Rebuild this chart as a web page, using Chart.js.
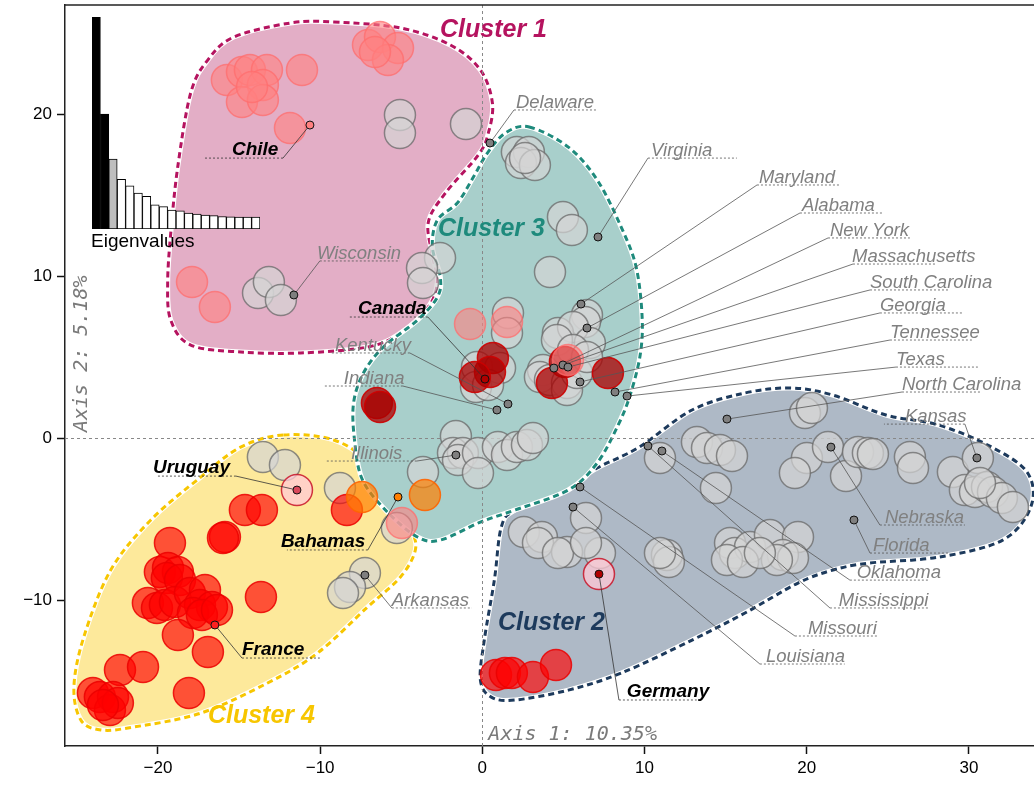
<!DOCTYPE html>
<html lang="en">
<head>
<meta charset="UTF-8">
<title>DAPC clusters</title>
<script src="https://cdn.jsdelivr.net/npm/chart.js@4.4.1/dist/chart.umd.min.js"></script>
<style>
  html, body { margin: 0; padding: 0; background: #fff; }
  #wrap { position: relative; width: 1034px; height: 787px; overflow: hidden; }
  #main { position: absolute; left: 0; top: 0; }
  #eigen { position: absolute; left: 88px; top: 12px; }
  #eigenLabel { position: absolute; left: 91px; top: 230px; font: 19px "Liberation Sans", Arial, sans-serif; color: #000; }
</style>
</head>
<body>
<div id="wrap">
  <canvas id="main" width="1034" height="787"></canvas>
  <canvas id="eigen" width="176" height="218"></canvas>
  <div id="eigenLabel">Eigenvalues</div>
</div>
<script>
// ---- data (axis units) ----
const xTicks = [-20, -10, 0, 10, 20, 30];
const yTicks = [-10, 0, 10, 20];

const grayPts = [
  [-5.08,19.94],[-5.08,18.83],[-1.01,19.38],[-13.83,8.95],[-13.16,9.63],[-12.42,8.52],
  [-2.61,11.11],[-3.72,10.49],[-3.66,9.57],
  [2.13,17.65],[2.87,17.65],[2.38,16.98],[3.24,16.85],[2.63,17.28],[4.97,13.64],[5.52,12.84],
  [4.17,10.25],[1.58,7.72],[1.52,6.48],[-0.33,4.38],[1.09,4.32],[-0.39,3.15],[0.35,3.27],
  [6.45,7.59],[6.33,7.16],[4.66,6.48],[5.59,6.85],[4.60,6.05],[6.63,5.86],[5.59,5.43],
  [3.74,4.20],[3.55,3.77],[4.17,3.58],[5.22,3.40],[5.22,2.96],[5.83,4.01],[6.45,5.00],
  [-1.63,0.12],[-1.81,-0.93],[-1.20,-0.93],[-1.50,-1.36],[-0.27,-0.93],[-0.27,-2.16],
  [0.96,-0.56],[1.52,-1.05],[2.13,-0.56],[2.75,-0.43],[3.12,0.00],[-3.66,-2.10],[-5.27,-5.56],
  [-13.53,-1.17],[-12.17,-1.67],[-8.78,-3.09],[-7.24,-8.33],[-8.16,-9.20],[-8.59,-9.57],
  [19.89,1.54],[20.32,1.85],[13.23,-0.25],[13.85,-0.62],[14.65,-0.74],[15.39,-1.11],
  [10.95,-1.23],[14.40,-3.09],[20.01,-1.23],[19.27,-2.16],[21.31,-0.56],[22.42,-2.35],
  [23.16,-0.86],[23.77,-0.93],[24.08,-0.99],[11.38,-7.22],[11.50,-7.65],[10.95,-7.10],
  [15.27,-6.48],[15.57,-7.10],[16.50,-6.73],[15.08,-7.53],[16.07,-7.65],[17.73,-5.99],
  [19.46,-6.11],[18.53,-7.22],[19.15,-7.41],[18.16,-7.53],[17.11,-7.10],
  [26.36,-1.17],[26.55,-1.85],[29.01,-2.10],[30.55,-1.23],[29.75,-3.21],[30.37,-3.33],
  [31.11,-3.02],[31.48,-3.33],[32.03,-3.70],[32.71,-4.26],[30.68,-2.78],
  [2.56,-5.80],[3.67,-6.11],[3.43,-6.48],[5.22,-7.04],[4.66,-7.10],[6.39,-4.94],[7.25,-7.10],[6.39,-6.48]
];
const redPts = [
  [-14.64,-4.44],[-13.59,-4.44],[-15.87,-6.11],[-15.99,-6.17],[-19.26,-6.48],[-8.35,-4.44],
  [-19.88,-8.27],[-19.38,-8.02],[-18.77,-8.27],[-19.45,-8.64],[-18.64,-8.77],[-20.62,-10.19],
  [-20.06,-10.49],[-19.57,-10.31],[-18.95,-10.12],[-18.03,-9.57],[-17.10,-9.38],[-17.41,-10.31],
  [-16.67,-10.43],[-17.84,-10.80],[-17.29,-10.93],[-16.36,-10.62],[-18.77,-12.16],[-16.92,-13.21],
  [-13.65,-9.81],[-22.34,-14.32],[-20.92,-14.14],[-18.09,-15.74],[-24.01,-15.74],[-23.58,-15.99],
  [-22.77,-15.99],[-22.96,-16.79],[-22.47,-16.36],[-23.39,-16.48],
  [0.84,-14.63],[1.39,-14.51],[1.82,-14.51],[3.12,-14.75],[4.54,-14.01]
];
const darkRedPts = [
  [0.65,4.94],[0.47,4.07],[-0.46,3.77],[-6.50,2.16],[-6.31,1.91],[5.09,4.69],[4.29,3.40],[7.74,4.01]
];
const salmonPts = [
  [-15.75,22.10],[-14.82,22.59],[-14.33,22.72],[-13.28,22.72],[-13.53,21.79],[-14.82,20.74],
  [-13.53,20.86],[-14.20,21.67],[-11.12,22.72],[-11.86,19.14],[-7.05,24.26],[-6.31,24.75],
  [-5.20,24.07],[-5.82,23.33],[-6.62,23.83],[-17.90,9.63],[-16.49,8.09],
  [-0.76,7.04],[1.52,7.16],[-4.96,-5.25],[5.28,4.81]
];
const orangePts = [[-7.42,-3.64],[-3.54,-3.52]];
const paleRedPts = [[-11.43,-3.21],[7.19,-8.40]];

const labelNames = ['Delaware','Virginia','Maryland','Alabama','New York','Massachusetts',
  'South Carolina','Georgia','Tennessee','Texas','North Carolina','Kansas','Nebraska','Florida',
  'Oklahoma','Mississippi','Missouri','Louisiana','Germany','Arkansas','France','Bahamas',
  'Uruguay','Illinois','Indiana','Kentucky','Canada','Wisconsin','Chile'];
const labelDots = [[0.47,18.21],[7.13,12.41],[6.08,8.27],[6.45,6.79],[4.41,4.32],[4.97,4.51],
  [5.28,4.38],[6.02,3.46],[8.18,2.84],[8.92,2.59],[15.08,1.17],[30.49,-1.23],[21.49,-0.56],
  [22.91,-5.06],[11.07,-0.80],[10.21,-0.49],[6.02,-3.02],[5.59,-4.26],[7.19,-8.40],[-7.24,-8.46],
  [-16.49,-11.54],[-5.20,-3.64],[-11.43,-3.21],[-1.63,-1.05],[0.90,1.73],[1.58,2.10],[0.16,3.64],
  [-11.62,8.83],[-10.63,19.32]];
const countries = ['Germany','France','Bahamas','Uruguay','Canada','Chile'];

const eigenvalues = [10.35,5.61,3.41,2.43,2.11,1.75,1.59,1.18,1.09,0.92,0.89,0.78,0.73,0.68,0.65,0.61,0.60,0.58,0.58,0.58];

const clusterNames = ['Cluster 1','Cluster 2','Cluster 3','Cluster 4'];
const cluster1Hull = [[-9.17,25.68],[-5.05,25.31],[-1.97,24.26],[-0.12,22.72],[0.62,20.68],[0.37,18.83],
  [-0.25,17.47],[-2.28,15.12],[-3.33,13.33],[-3.08,11.30],[-2.77,9.63],[-3.33,8.09],[-5.05,6.48],
  [-7.08,5.62],[-11.21,5.25],[-14.90,5.31],[-17.98,5.74],[-19.21,7.28],[-19.40,9.57],[-19.21,12.65],
  [-18.78,16.73],[-17.98,21.30],[-16.93,23.33],[-15.33,24.75],[-11.82,25.62]];
const cluster2Hull = [[4.86,-3.21],[7.08,-1.85],[9.67,-0.56],[12.93,1.73],[16.19,2.78],[19.03,3.09],
  [21.61,2.65],[24.88,1.42],[28.14,0.80],[31.40,-0.56],[33.62,-2.16],[33.81,-4.26],[32.08,-6.30],
  [28.14,-7.35],[23.83,-7.72],[21.61,-8.15],[19.46,-8.95],[16.19,-10.80],[12.93,-12.47],[8.56,-14.51],
  [5.30,-15.56],[2.03,-16.17],[0.55,-15.99],[-0.12,-14.94],[0.12,-12.47],[0.74,-8.77],[1.17,-5.49],[2.03,-4.44]];
const cluster3Hull = [[2.89,19.20],[5.30,17.96],[7.08,15.93],[8.56,13.02],[9.48,10.56],[9.85,7.47],
  [9.73,5.12],[9.11,2.65],[8.37,0.80],[7.08,-1.54],[5.30,-3.21],[2.03,-4.44],[-0.12,-5.19],
  [-2.59,-6.30],[-4.00,-6.11],[-5.85,-4.57],[-7.39,-2.59],[-7.88,-0.12],[-7.94,2.16],[-7.33,4.01],
  [-6.10,5.62],[-4.00,7.28],[-2.77,8.70],[-2.59,9.94],[-3.08,11.79],[-2.77,13.46],[-1.54,14.51],
  [-0.55,16.11],[0.31,17.59],[1.42,18.83]];
const cluster4Hull = [[-12.25,0.19],[-9.17,-0.12],[-7.08,-1.54],[-5.67,-4.26],[-4.43,-5.68],[-4.13,-6.91],
  [-5.05,-8.58],[-7.08,-10.43],[-10.16,-13.27],[-13.24,-15.12],[-17.36,-16.98],[-21.49,-17.84],
  [-23.52,-18.02],[-24.75,-17.41],[-25.18,-15.37],[-24.57,-12.28],[-22.91,-8.15],[-20.44,-5.06],
  [-17.36,-2.41],[-14.90,-0.56]];

// ---- layout of the annotations (axis units) ----
// [underline y, underline x0, underline x1, text x, side the leader joins]
const labelLayout = [
  [20.25,1.95,7.07,2.07,'L'],[17.28,10.21,15.69,10.40,'L'],[15.62,16.93,22.05,17.05,'L'],
  [13.89,19.58,24.64,19.70,'L'],[12.35,21.31,26.36,21.43,'L'],[10.74,22.85,27.97,22.79,'L'],
  [9.14,23.90,28.83,23.90,'L'],[7.72,24.51,29.57,24.51,'L'],[6.05,25.13,30.18,25.13,'L'],
  [4.38,25.50,30.55,25.50,'L'],[2.84,25.87,30.80,25.87,'L'],[0.86,24.76,29.75,26.05,'R'],
  [-5.37,24.51,29.75,24.82,'L'],[-7.10,23.90,28.77,24.08,'L'],[-8.77,22.66,27.59,23.08,'L'],
  [-10.49,21.43,27.47,21.98,'L'],[-12.22,19.27,24.39,20.07,'L'],[-13.95,17.11,22.34,17.48,'L'],
  [-16.17,8.42,13.22,8.91,'L'],[-10.49,-5.58,-0.64,-5.58,'L'],[-13.58,-14.82,-10.02,-14.82,'L'],
  [-6.91,-12.05,-7.06,-12.42,'R'],[-2.35,-20.06,-15.19,-20.31,'R'],[-1.42,-9.71,-4.04,-8.10,'R'],
  [3.21,-9.71,-4.90,-8.54,'R'],[5.25,-9.28,-4.47,-9.09,'R'],[7.47,-8.17,-3.36,-7.67,'R'],
  [10.93,-10.02,-5.08,-10.20,'L'],[17.28,-17.16,-12.29,-15.44,'R']
];
const clusterLabelPos = [[-2.61,25.19],[0.96,-11.42],[-2.74,12.90],[-16.92,-17.16]];

const hulls = [
  { pts: cluster4Hull, fill: '#FDE99B', line: '#F7C600' },
  { pts: cluster1Hull, fill: '#E3AEC6', line: '#B5135F' },
  { pts: cluster2Hull, fill: '#AEB9C6', line: '#1D3A5C' },
  { pts: cluster3Hull, fill: '#A8CFCB', line: '#1E8A7C' }
];
const clusterColors = ['#B5135F', '#1D3A5C', '#1E8A7C', '#F7C600'];

const toXY = a => a.map(p => ({ x: p[0], y: p[1] }));
const FONT = '"Liberation Sans", Arial, sans-serif';

function smoothClosed(ctx, pts) {
  const n = pts.length;
  ctx.beginPath();
  ctx.moveTo(pts[0][0], pts[0][1]);
  for (let i = 0; i < n; i++) {
    const p0 = pts[(i - 1 + n) % n], p1 = pts[i], p2 = pts[(i + 1) % n], p3 = pts[(i + 2) % n];
    ctx.bezierCurveTo(
      p1[0] + (p2[0] - p0[0]) / 6, p1[1] + (p2[1] - p0[1]) / 6,
      p2[0] - (p3[0] - p1[0]) / 6, p2[1] - (p3[1] - p1[1]) / 6,
      p2[0], p2[1]);
  }
  ctx.closePath();
}

// hulls and zero lines go under the points
const hullPlugin = {
  id: 'hulls',
  beforeDatasetsDraw(chart) {
    const { ctx, chartArea: a, scales: { x, y } } = chart;
    ctx.save();
    ctx.beginPath();
    ctx.rect(a.left, a.top, a.right - a.left, a.bottom - a.top);
    ctx.clip();
    hulls.forEach(h => {
      const px = h.pts.map(p => [x.getPixelForValue(p[0]), y.getPixelForValue(p[1])]);
      smoothClosed(ctx, px);
      ctx.fillStyle = h.fill;
      ctx.fill();
      ctx.setLineDash([]);
      ctx.strokeStyle = '#fff';
      ctx.lineWidth = 5;
      ctx.stroke();
      ctx.setLineDash([6, 4]);
      ctx.strokeStyle = h.line;
      ctx.lineWidth = 3;
      ctx.stroke();
    });
    // dotted zero lines
    ctx.setLineDash([3, 3]);
    ctx.strokeStyle = '#888';
    ctx.lineWidth = 1;
    const x0 = Math.round(x.getPixelForValue(0)) + 0.5, y0 = Math.round(y.getPixelForValue(0)) + 0.5;
    ctx.beginPath();
    ctx.moveTo(x0, a.top); ctx.lineTo(x0, a.bottom);
    ctx.moveTo(a.left, y0); ctx.lineTo(a.right, y0);
    ctx.stroke();
    ctx.restore();
  }
};

// texts on top
const textPlugin = {
  id: 'texts',
  afterDatasetsDraw(chart) {
    const { ctx, chartArea: a, scales: { x, y } } = chart;
    ctx.save();
    ctx.textAlign = 'left';
    ctx.textBaseline = 'alphabetic';
    labelNames.forEach((name, i) => {
      const L = labelLayout[i];
      const bold = countries.includes(name);
      ctx.font = bold ? 'italic bold 19px ' + FONT : 'italic 18.5px ' + FONT;
      ctx.fillStyle = bold ? '#000' : '#808080';
      ctx.fillText(name, x.getPixelForValue(L[3]), y.getPixelForValue(L[0]) - (bold ? 3 : 2));
    });
    ctx.font = 'italic bold 25px ' + FONT;
    ctx.textBaseline = 'middle';
    clusterNames.forEach((n, i) => {
      ctx.fillStyle = clusterColors[i];
      ctx.fillText(n, x.getPixelForValue(clusterLabelPos[i][0]), y.getPixelForValue(clusterLabelPos[i][1]));
    });
    // axis titles
    ctx.font = 'oblique 20px "DejaVu Sans Mono", monospace';
    ctx.fillStyle = '#7a7a7a';
    ctx.textBaseline = 'alphabetic';
    ctx.fillText('Axis 1: 10.35%', x.getPixelForValue(0) + 6, a.bottom - 6);
    ctx.save();
    ctx.translate(a.left + 22, y.getPixelForValue(0) - 6);
    ctx.rotate(-Math.PI / 2);
    ctx.fillText('Axis 2: 5.18%', 0, 0);
    ctx.restore();
    // top frame line
    ctx.strokeStyle = '#222';
    ctx.lineWidth = 1.5;
    ctx.beginPath();
    ctx.moveTo(a.left, a.top); ctx.lineTo(a.right, a.top);
    ctx.stroke();
    ctx.restore();
  }
};

function circles(data, fill, line, order) {
  return {
    data: toXY(data), order,
    pointRadius: 15.5, pointHoverRadius: 15.5,
    backgroundColor: fill, borderColor: line, borderWidth: 1.5
  };
}

const leaderSets = labelNames.map((name, i) => {
  const L = labelLayout[i];
  const bold = countries.includes(name);
  const near = L[4] === 'L' ? L[1] : L[2];
  const far = L[4] === 'L' ? L[2] : L[1];
  return {
    data: [{ x: labelDots[i][0], y: labelDots[i][1] }, { x: near, y: L[0] }, { x: far, y: L[0] }],
    showLine: true, pointRadius: 0, order: 1,
    borderColor: bold ? '#333' : '#555', borderWidth: 0.8,
    segment: { borderDash: c => c.p0DataIndex === 1 ? [2, 2] : undefined }
  };
});

const dotFill = labelNames.map(n => ({
  Chile: '#FF8080', Uruguay: '#D9495A', Bahamas: '#FF7F00', France: '#FF2020',
  Germany: '#B00000', Canada: '#B00000'
}[n] || '#7f7f7f'));

// tick labels must not push the plot box inwards
function noPad(s) { s.paddingLeft = 0; s.paddingRight = 0; s.paddingTop = 0; s.paddingBottom = 0; }

new Chart(document.getElementById('main'), {
  type: 'scatter',
  data: {
    datasets: [
      circles(grayPts, 'rgba(212,212,212,0.7)', 'rgba(105,105,105,0.75)', 9),
      circles(redPts, 'rgba(255,0,0,0.65)', 'rgba(235,0,0,0.85)', 8),
      circles(darkRedPts, 'rgba(170,0,0,0.75)', 'rgba(205,0,0,0.9)', 7),
      circles(salmonPts, 'rgba(255,128,128,0.6)', 'rgba(255,110,110,0.75)', 6),
      circles(orangePts, 'rgba(255,127,0,0.7)', 'rgba(255,100,0,0.9)', 5),
      circles(paleRedPts, 'rgba(255,200,212,0.75)', 'rgba(200,20,40,0.85)', 4),
      ...leaderSets,
      {
        data: toXY(labelDots), order: 0,
        pointRadius: 4, pointHoverRadius: 4,
        backgroundColor: dotFill, borderColor: '#111', borderWidth: 1
      }
    ]
  },
  options: {
    responsive: false,
    animation: false,
    events: [],
    layout: { autoPadding: false, padding: { top: 5, right: 0, left: 0, bottom: 0 } },
    plugins: { legend: { display: false }, tooltip: { enabled: false } },
    scales: {
      x: {
        type: 'linear', min: -25.73, max: 34.01,
        afterFit: s => { s.height = 41; noPad(s); },
        afterBuildTicks: s => { s.ticks = xTicks.map(v => ({ value: v })); },
        grid: { drawOnChartArea: false, drawTicks: true, tickLength: 8, tickColor: '#111', tickWidth: 1.5 },
        border: { display: true, color: '#222', width: 1.5 },
        ticks: {
          padding: 4, color: '#000', font: { family: FONT, size: 17 },
          callback: v => v < 0 ? '\u2212' + Math.abs(v) : String(v)
        }
      },
      y: {
        type: 'linear', min: -19.01, max: 26.73,
        afterFit: s => { s.width = 65; noPad(s); },
        afterBuildTicks: s => { s.ticks = yTicks.map(v => ({ value: v })); },
        grid: { drawOnChartArea: false, drawTicks: true, tickLength: 8, tickColor: '#111', tickWidth: 1.5 },
        border: { display: true, color: '#222', width: 1.5 },
        ticks: {
          padding: 5, color: '#000', font: { family: FONT, size: 17 },
          callback: v => v < 0 ? '\u2212' + Math.abs(v) : String(v)
        }
      }
    }
  },
  plugins: [hullPlugin, textPlugin]
});

// eigenvalue inset
new Chart(document.getElementById('eigen'), {
  type: 'bar',
  data: {
    labels: eigenvalues.map((v, i) => String(i + 1)),
    datasets: [{
      data: eigenvalues,
      backgroundColor: eigenvalues.map((v, i) => i < 2 ? '#000' : (i === 2 ? '#bebebe' : '#fff')),
      borderColor: '#000', borderWidth: 1, borderSkipped: false,
      barPercentage: 1, categoryPercentage: 1
    }]
  },
  options: {
    responsive: false,
    animation: false,
    events: [],
    layout: { autoPadding: false, padding: { left: 4, right: 4, top: 5, bottom: 1 } },
    plugins: { legend: { display: false }, tooltip: { enabled: false } },
    scales: {
      x: { display: false },
      y: { display: false, min: 0, max: eigenvalues[0] }
    }
  }
});
</script>
</body>
</html>
